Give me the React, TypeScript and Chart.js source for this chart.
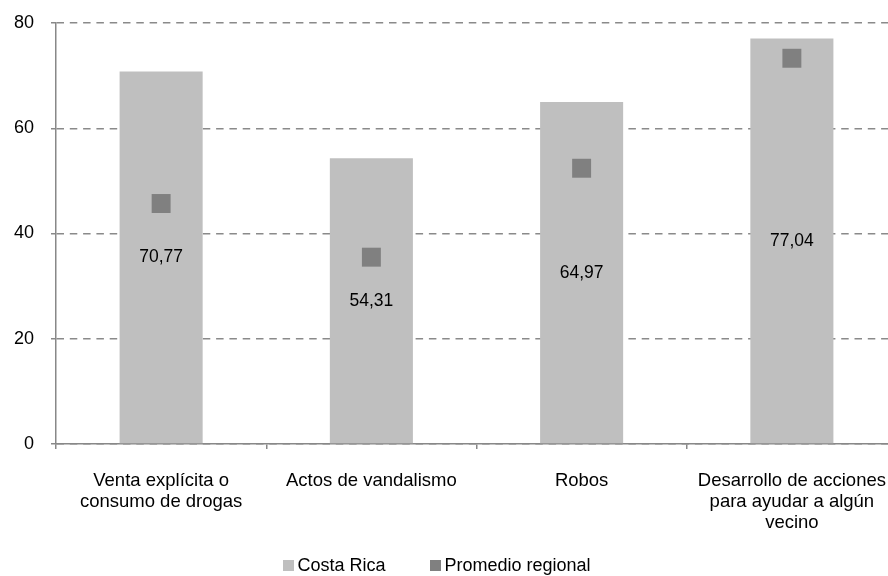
import React, { useEffect, useRef } from "react";
import { Chart, registerables } from "chart.js";

Chart.register(...registerables);

const categories: (string | string[])[] = [
  ["Venta explícita o", "consumo de drogas"],
  "Actos de vandalismo",
  "Robos",
  ["Desarrollo de acciones", "para ayudar a algún", "vecino"],
];
const costaRica = [70.77, 54.31, 64.97, 77.04];
const promedioRegional = [45.7, 35.5, 52.4, 73.3];
const seriesNames = ["Costa Rica", "Promedio regional"];
const yTicks = [0, 20, 40, 60, 80];

const FONT = "'Liberation Sans', Arial, sans-serif";

const barLabelPlugin = {
  id: "barLabels",
  afterDatasetsDraw(chart: any) {
    const meta = chart.getDatasetMeta(0);
    const ctx = chart.ctx;
    ctx.save();
    ctx.font = `17.5px ${FONT}`;
    ctx.fillStyle = "#000";
    ctx.textAlign = "center";
    ctx.textBaseline = "middle";
    meta.data.forEach((el: any, i: number) => {
      const v = chart.data.datasets[0].data[i] as number;
      ctx.fillText(v.toFixed(2).replace(".", ","), el.x, (el.y + el.base) / 2);
    });
    ctx.restore();
  },
};

// Legend drawn manually (Excel-like spacing)
const legendPlugin = {
  id: "customLegend",
  afterDraw(chart: any) {
    const ctx = chart.ctx;
    const box = 11;
    const textGap = 3;
    const itemGap = 45;
    const centerX = 437;
    const cy = 565;
    ctx.save();
    ctx.font = `18px ${FONT}`;
    ctx.textBaseline = "middle";
    ctx.textAlign = "left";
    const items = chart.data.datasets.map((ds: any) => ({
      label: ds.label as string,
      color: ds.backgroundColor as string,
      w: ctx.measureText(ds.label).width,
    }));
    const total =
      items.reduce((s: number, it: any) => s + box + textGap + it.w, 0) +
      itemGap * (items.length - 1);
    let x = centerX - total / 2;
    items.forEach((it: any) => {
      ctx.fillStyle = it.color;
      ctx.fillRect(Math.round(x), Math.round(cy - box / 2), box, box);
      ctx.fillStyle = "#000";
      ctx.fillText(it.label, x + box + textGap, cy + 1);
      x += box + textGap + it.w + itemGap;
    });
    ctx.restore();
  },
};

export default function App() {
  const ref = useRef<HTMLCanvasElement>(null);
  useEffect(() => {
    if (!ref.current) return;
    const chart = new Chart(ref.current, {
      type: "bar",
      data: {
        labels: categories as any,
        datasets: [
          {
            type: "bar",
            label: seriesNames[0],
            data: costaRica,
            backgroundColor: "#bfbfbf",
            borderWidth: 0,
            categoryPercentage: 1,
            barPercentage: 0.395,
            order: 1,
          } as any,
          {
            type: "line",
            label: seriesNames[1],
            data: promedioRegional,
            showLine: false,
            backgroundColor: "#808080",
            borderColor: "#808080",
            borderWidth: 0,
            pointStyle: "rect",
            pointRadius: 13.4,
            pointBackgroundColor: "#808080",
            pointBorderWidth: 0,
            clip: false,
            order: 0,
          } as any,
        ],
      },
      options: {
        responsive: false,
        animation: false,
        events: [],
        layout: { autoPadding: false, padding: { top: 23, left: 0, right: 0, bottom: 37 } },
        plugins: {
          tooltip: { enabled: false },
          legend: { display: false },
        },
        scales: {
          x: {
            afterFit: (s: any) => {
              s.height = 95;
              s.paddingLeft = 0;
              s.paddingRight = 0;
            },
            grid: {
              offset: true,
              drawOnChartArea: false,
              drawTicks: true,
              tickLength: 5,
              color: "#888888",
              lineWidth: 1.5,
            },
            border: { display: true, color: "#888888", width: 1.5 },
            ticks: {
              color: "#000",
              padding: 21,
              maxRotation: 0,
              autoSkip: false,
              font: { size: 18.5, family: FONT, lineHeight: 1.135 },
            },
          },
          y: {
            min: 0,
            max: 80,
            afterFit: (s: any) => {
              s.width = 56;
              s.paddingTop = 0;
              s.paddingBottom = 0;
            },
            afterBuildTicks: (s: any) => {
              s.ticks = yTicks.map((v) => ({ value: v }));
            },
            grid: {
              color: "#8a8a8a",
              lineWidth: 1.5,
              drawTicks: true,
              tickLength: 5,
              tickColor: "#888888",
              tickWidth: 1.5,
            } as any,
            border: { display: true, color: "#888888", width: 1.5, dash: [7.5, 5.8] },
            ticks: {
              color: "#000",
              padding: 17,
              font: { size: 18, family: FONT },
            },
          },
        },
      },
      plugins: [barLabelPlugin, legendPlugin],
    });
    return () => chart.destroy();
  }, []);
  return (
    <div style={{ position: "fixed", left: 0, top: 0, width: 888, height: 576, overflow: "hidden", background: "#fff" }}>
      <canvas ref={ref} width={897} height={576} style={{ display: "block", width: 897, height: 576 }} />
    </div>
  );
}
